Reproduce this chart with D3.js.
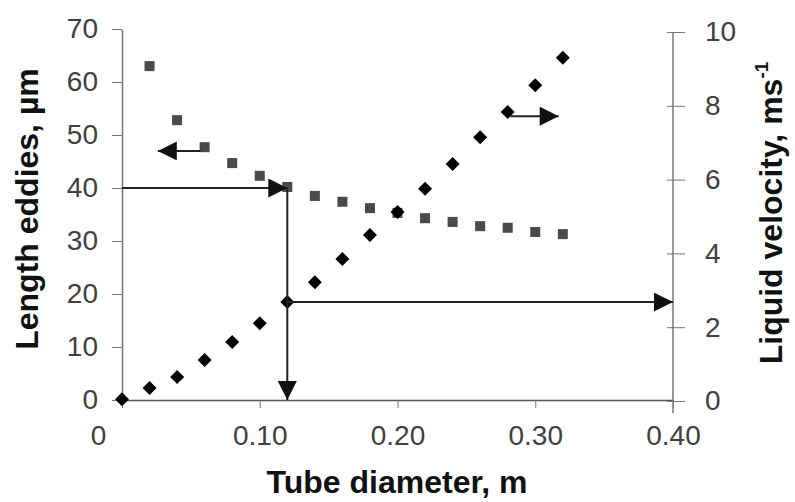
<!DOCTYPE html>
<html>
<head>
<meta charset="utf-8">
<script src="https://cdn.jsdelivr.net/npm/d3@7"></script>
<style>
  html, body { margin: 0; padding: 0; background: #fff; }
  svg { display: block; font-family: "Liberation Sans", Arial, sans-serif; }
</style>
</head>
<body>
<svg id="chart" width="795" height="502"></svg>
<script>
// ---- data ----
const diameterEddies = [0.02, 0.04, 0.06, 0.08, 0.10, 0.12, 0.14, 0.16, 0.18, 0.20, 0.22, 0.24, 0.26, 0.28, 0.30, 0.32];
const lengthEddies   = [63.0, 52.8, 47.7, 44.7, 42.3, 40.2, 38.5, 37.4, 36.2, 35.3, 34.3, 33.6, 32.8, 32.5, 31.7, 31.3];
const diameterVel    = [0.00, 0.02, 0.04, 0.06, 0.08, 0.10, 0.12, 0.14, 0.16, 0.18, 0.20, 0.22, 0.24, 0.26, 0.28, 0.30, 0.32];
const liquidVelocity = [0.05, 0.35, 0.65, 1.11, 1.60, 2.11, 2.68, 3.22, 3.85, 4.50, 5.12, 5.75, 6.42, 7.15, 7.83, 8.56, 9.30];
const xTicks = [0, 0.10, 0.20, 0.30, 0.40];
const xTickLabels = ["0", "0.10", "0.20", "0.30", "0.40"];
const yLeftTicks = [0, 10, 20, 30, 40, 50, 60, 70];
const yRightTicks = [0, 2, 4, 6, 8, 10];
// guide arrows: [x1, y1, x2, y2, axis]
const guideArrows = [
  [0.00, 40, 0.12, 40, "left"],
  [0.12, 40, 0.12, 0, "left"],
  [0.12, 2.68, 0.40, 2.68, "right"],
  [0.057, 47, 0.026, 47, "left"],
  [0.282, 7.72, 0.317, 7.72, "right"]
];
const xTitle = "Tube diameter, m";
const yLeftTitle = "Length eddies, µm";
const yRightTitle = "Liquid velocity, ms";

// ---- chart ----
const svg = d3.select("#chart");
const x = d3.scaleLinear().domain([0, 0.4]).range([122, 673]);
const yL = d3.scaleLinear().domain([0, 70]).range([400, 29]);
const yR = d3.scaleLinear().domain([0, 10]).range([401, 32]);

const axisColor = "#777";
const labelColor = "#404040";

// x axis
const gx = svg.append("g").attr("transform", "translate(0,400)")
  .call(d3.axisBottom(x).tickValues(xTicks).tickFormat((d, i) => xTickLabels[i]).tickSize(8).tickPadding(17).tickSizeOuter(0));
gx.select(".domain").attr("stroke", "#555").attr("stroke-width", 1.5);
gx.selectAll(".tick line").attr("stroke", axisColor);
gx.selectAll(".tick text").attr("font-size", 28).attr("fill", labelColor)
  .attr("dx", (d, i) => i === 0 ? -24 : 0);

// left axis
const gl = svg.append("g").attr("transform", "translate(122,0)")
  .call(d3.axisLeft(yL).tickValues(yLeftTicks).tickSize(10).tickPadding(14).tickSizeOuter(0));
gl.select(".domain").attr("stroke", axisColor).attr("stroke-width", 1.5);
gl.selectAll(".tick line").attr("stroke", axisColor);
gl.selectAll(".tick text").attr("font-size", 28).attr("fill", labelColor);

// right axis (cross ticks)
const gr = svg.append("g").attr("transform", "translate(673,0)")
  .call(d3.axisRight(yR).tickValues(yRightTicks).tickSize(12).tickPadding(20).tickSizeOuter(0));
gr.select(".domain").attr("stroke", axisColor).attr("stroke-width", 1.5)
  .attr("d", `M0,${yR(10)}V${yR(0) + 12}`);
gr.selectAll(".tick line").attr("stroke", axisColor).attr("x1", -6);
gr.selectAll(".tick text").attr("font-size", 28).attr("fill", labelColor);

// titles
svg.append("text").attr("x", 397).attr("y", 493).attr("text-anchor", "middle")
  .attr("font-size", 32).attr("font-weight", "bold").attr("fill", "#111").text(xTitle);
svg.append("text").attr("transform", "translate(38,209) rotate(-90)").attr("text-anchor", "middle")
  .attr("font-size", 32).attr("font-weight", "bold").attr("fill", "#111").text(yLeftTitle);
const rt = svg.append("text").attr("transform", "translate(782,213) rotate(-90)").attr("text-anchor", "middle")
  .attr("font-size", 32).attr("font-weight", "bold").attr("fill", "#111");
rt.append("tspan").text(yRightTitle);
rt.append("tspan").attr("font-size", 19).attr("dy", -14).text("-1");

// arrow marker
svg.append("defs").append("marker")
  .attr("id", "arrow").attr("viewBox", "0 0 20 20").attr("refX", 20).attr("refY", 10)
  .attr("markerWidth", 20).attr("markerHeight", 19).attr("markerUnits", "userSpaceOnUse")
  .attr("orient", "auto")
  .append("path").attr("d", "M0,0L20,10L0,20Z").attr("fill", "#111");

// squares (length eddies)
svg.append("g").selectAll("rect").data(diameterEddies).join("rect")
  .attr("x", (d) => x(d) - 5).attr("y", (d, i) => yL(lengthEddies[i]) - 5)
  .attr("width", 10).attr("height", 10).attr("fill", "#4a4a4a");

// diamonds (liquid velocity)
svg.append("g").selectAll("path").data(diameterVel).join("path")
  .attr("transform", (d, i) => `translate(${x(d)},${yR(liquidVelocity[i])})`)
  .attr("d", "M0,-7L7,0L0,7L-7,0Z").attr("fill", "#000");

// arrows
svg.append("g").selectAll("line").data(guideArrows).join("line")
  .attr("x1", (d) => x(d[0]))
  .attr("y1", (d) => (d[4] === "left" ? yL : yR)(d[1]))
  .attr("x2", (d) => x(d[2]))
  .attr("y2", (d) => (d[4] === "left" ? yL : yR)(d[3]))
  .attr("stroke", "#222").attr("stroke-width", 2)
  .attr("marker-end", "url(#arrow)");
</script>
</body>
</html>
